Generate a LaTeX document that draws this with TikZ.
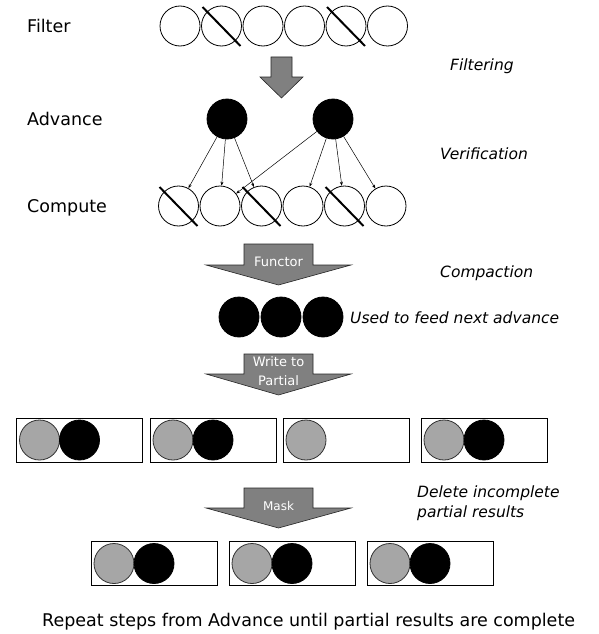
\documentclass[tikz,border=0pt]{standalone}
\usepackage{fontspec}
\setmainfont{DejaVu Sans}
\usetikzlibrary{calc}
\usetikzlibrary{arrows.meta}
\definecolor{cus-gray}{RGB}{128,128,128}
\definecolor{cus-light}{RGB}{166,166,166}
\begin{document}
\begin{tikzpicture}[x=1pt, y=-1pt,
	ring/.style={draw, circle, minimum size=40pt, inner sep=0pt, line width=.8pt},
	dot/.style={ring, fill=black},
	grayring/.style={ring, fill=cus-light, draw=black!80},
	slot/.style={draw, rectangle, minimum width=126pt, minimum height=44pt, inner sep=0pt, line width=.8pt},
	cross/.style={line width=2pt},
	edge/.style={line width=.5pt, -{Stealth[length=4pt, width=3pt]}},
	blockarrow/.style={fill=cus-gray, draw=black!85, line width=.6pt},
	label/.style={inner sep=0pt, anchor=base west, font=\fontsize{17.5}{21}\selectfont},
	note/.style={inner sep=0pt, anchor=base west, font=\fontsize{15.5}{20}\selectfont\itshape},
	tag/.style={inner sep=0pt, anchor=base, text=white, font=\fontsize{13}{16}\selectfont}]
\useasboundingbox (0,0) rectangle (599,634);

% rows of the filter and compute steps
\foreach \i in {1,...,6}{
	\node [ring] (f\i) at ({138.5+41.5*\i}, 26) {};
	\node [ring] (c\i) at ({137+41.5*\i}, 206) {};
}
\node [dot] (a1) at (227,119) {};
\node [dot] (a2) at (333,119) {};
\foreach \n in {f2, f5, c1, c3, c5}
	\draw [cross] ([shift={(-19,-19)}]\n.center) -- ([shift={(19,20)}]\n.center);
\foreach \a/\c in {a1/c1, a1/c2, a1/c3, a2/c2, a2/c4, a2/c5, a2/c6}
	\draw [edge] (\a) -- (\c);

\node [label] (filter) at (27,33) {Filter};
\node [label] (advance) at (27,125.5) {Advance};
\node [label] (compute) at (27,212.5) {Compute};
\node [note] (filtering) at (450,70.5) {Filtering};
\node [note] (verification) at (440,159.3) {Verification};
\node [note] (compaction) at (440,277) {Compaction};

% block arrows
\draw [blockarrow] (271,57) -- (292,57) -- (292,77) -- (303,77) -- (281.5,98)
	-- (260,77) -- (271,77) -- cycle;
\foreach \t/\h/\b in {244/265/285, 354/374/395, 488/508/528}
	\draw [blockarrow] (244,\t) -- (313,\t) -- (313,\h) -- (351,\h) -- (278.5,\b)
		-- (206,\h) -- (244,\h) -- cycle;
\node [tag] (functor) at (278.5,266.7) {Functor};
\node [tag, align=center, font=\fontsize{13}{18.5}\selectfont] (write) at (278.5,385) {Write to\\Partial};
\node [tag, font=\fontsize{12}{15}\selectfont] (mask) at (278.5,510) {Mask};

% compacted frontier
\foreach \n/\x in {k1/239, k2/281, k3/323}
	\node [dot] (\n) at (\x,317) {};
\node [note] (feed) at (350,323.3) {Used to feed next advance};

% partial results
\foreach \n/\x in {p1/79.5, p2/213, p3/346, p4/484}{
	\node [slot] (\n) at (\x,440) {};
	\node [grayring] (\n-g) at ([xshift=-40]\n.center) {};
}
\foreach \n in {p1, p2, p4}
	\node [dot] (\n-b) at (\n.center) {};

\node [note, anchor=north west, align=left] (delete) at (417,485.5) {Delete incomplete\\partial results};

\foreach \n/\x in {m1/154, m2/292, m3/430}{
	\node [slot] (\n) at (\x,563.5) {};
	\node [grayring] (\n-g) at ([xshift=-40]\n.center) {};
	\node [dot] (\n-b) at (\n.center) {};
}

\node [label] (repeat) at (42,626.5) {Repeat steps from Advance until partial results are complete};
\end{tikzpicture}
\end{document}
